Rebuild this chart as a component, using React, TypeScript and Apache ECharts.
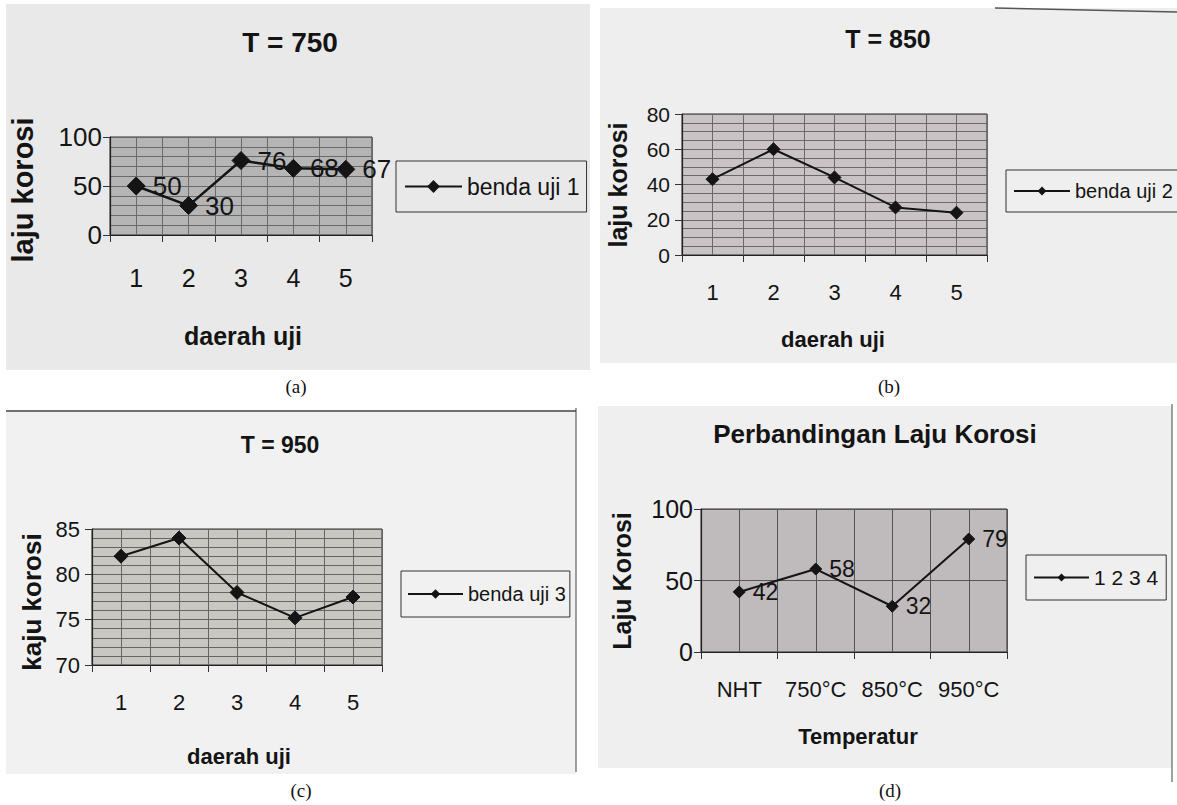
import React, { useEffect, useRef } from 'react';
import * as echarts from 'echarts';

// ---------------- data ----------------
const zoneCategories = ['1', '2', '3', '4', '5'];
const tempCategories = ['NHT', '750°C', '850°C', '950°C'];

const specimen1 = [50, 30, 76, 68, 67]; // T = 750
const specimen2 = [43, 60, 44, 27, 24]; // T = 850
const specimen3 = [82, 84, 78, 75.2, 77.5]; // T = 950
const comparison = [42, 58, 32, 79]; // Perbandingan

const yTicksA = { min: 0, max: 100, interval: 50, minor: 5 };
const yTicksB = { min: 0, max: 80, interval: 20, minor: 4 };
const yTicksC = { min: 70, max: 85, interval: 5, minor: 5 };
const yTicksD = { min: 0, max: 100, interval: 50, minor: 0 };

const FONT = "'Liberation Sans', Arial, Helvetica, sans-serif";
const SERIF = "'Liberation Serif', 'DejaVu Serif', serif";
const INK = '#141414';

type Panel = {
  name: string;
  cats: string[];
  data: number[];
  y: { min: number; max: number; interval: number; minor: number };
  grid: { left: number; top: number; width: number; height: number };
  fill: string;
  gridLine: string;
  showLabels: boolean;
  sym: number;
  lw: number;
  tickFs: number;
  xFs: number;
  labFs: number;
  legFs: number;
  xMargin: number;
  yMargin: number;
  legend: { left: number; top: number; pad: number[]; itemWidth: number; bg: string };
};

const panels: Panel[] = [
  {
    name: 'benda uji 1', cats: zoneCategories, data: specimen1, y: yTicksA,
    grid: { left: 110, top: 137, width: 262, height: 98 },
    fill: '#b5b5b5', gridLine: '#6a6a6a', showLabels: true, sym: 18, lw: 2.5,
    tickFs: 26, xFs: 25, labFs: 26, legFs: 23, xMargin: 30, yMargin: 8,
    legend: { left: 396, top: 161, pad: [14, 7, 14, 8], itemWidth: 57, bg: '#e9e9e9' },
  },
  {
    name: 'benda uji 2', cats: zoneCategories, data: specimen2, y: yTicksB,
    grid: { left: 682, top: 114, width: 305, height: 141 },
    fill: '#c9c3c5', gridLine: '#6a6868', showLabels: false, sym: 13, lw: 2,
    tickFs: 21, xFs: 22, labFs: 20, legFs: 20, xMargin: 26, yMargin: 12,
    legend: { left: 1006, top: 170, pad: [11, 14, 11, 7], itemWidth: 56, bg: '#efefef' },
  },
  {
    name: 'benda uji 3', cats: zoneCategories, data: specimen3, y: yTicksC,
    grid: { left: 92, top: 529, width: 290, height: 136 },
    fill: '#c8c7c2', gridLine: '#656565', showLabels: false, sym: 14, lw: 2,
    tickFs: 22, xFs: 22, labFs: 20, legFs: 20, xMargin: 26, yMargin: 12,
    legend: { left: 401, top: 571, pad: [13, 4, 13, 6], itemWidth: 55, bg: '#f1f1f1' },
  },
  {
    name: '1 2 3 4', cats: tempCategories, data: comparison, y: yTicksD,
    grid: { left: 701, top: 509, width: 306, height: 143 },
    fill: '#bfbabb', gridLine: '#555555', showLabels: true, sym: 12, lw: 2,
    tickFs: 25, xFs: 22, labFs: 23, legFs: 21, xMargin: 26, yMargin: 8,
    legend: { left: 1026, top: 555, pad: [12, 8, 12, 7], itemWidth: 55, bg: '#efefef' },
  },
];

// texts placed around the plots
const texts = [
  { t: 'T = 750', x: 290, y: 42, fs: 28, bold: true, rot: 0 },
  { t: 'laju korosi', x: 23, y: 190, fs: 29, bold: true, rot: 1 },
  { t: 'daerah uji', x: 243, y: 336, fs: 25, bold: true, rot: 0 },
  { t: 'T = 850', x: 888, y: 39, fs: 25, bold: true, rot: 0 },
  { t: 'laju korosi', x: 618, y: 185, fs: 25, bold: true, rot: 1 },
  { t: 'daerah uji', x: 833, y: 339, fs: 22, bold: true, rot: 0 },
  { t: 'T = 950', x: 280, y: 445, fs: 23, bold: true, rot: 0 },
  { t: 'kaju korosi', x: 32, y: 602, fs: 26, bold: true, rot: 1 },
  { t: 'daerah uji', x: 239, y: 756, fs: 22, bold: true, rot: 0 },
  { t: 'Perbandingan Laju Korosi', x: 875, y: 434, fs: 26, bold: true, rot: 0 },
  { t: 'Laju Korosi', x: 622, y: 581, fs: 25, bold: true, rot: 1 },
  { t: 'Temperatur', x: 858, y: 736, fs: 22, bold: true, rot: 0 },
];

const captions = [
  { t: '(a)', x: 296, y: 386 },
  { t: '(b)', x: 889, y: 386 },
  { t: '(c)', x: 301, y: 790 },
  { t: '(d)', x: 890, y: 790 },
];

function buildOption() {
  const grid: any[] = [];
  const xAxis: any[] = [];
  const yAxis: any[] = [];
  const series: any[] = [];
  const legend: any[] = [];

  panels.forEach((p, i) => {
    grid.push({
      ...p.grid,
      show: true,
      backgroundColor: p.fill,
      borderColor: '#2a2a2a',
      borderWidth: 1,
      containLabel: false,
    });
    // category axis (data)
    xAxis.push({
      type: 'category',
      gridIndex: i,
      data: p.cats,
      boundaryGap: true,
      axisLine: { show: true, onZero: false, lineStyle: { color: '#222', width: 1.2 } },
      axisTick: { show: true, length: 7, lineStyle: { color: '#333' } },
      axisLabel: { interval: 0, fontFamily: FONT, fontSize: p.xFs, color: INK, margin: p.xMargin },
      splitLine: { show: false },
    });
    // value axis used only for the vertical grid lines (every half category)
    xAxis.push({
      type: 'value',
      gridIndex: i,
      min: 0.5,
      max: p.cats.length + 0.5,
      interval: 0.5,
      axisLine: { show: false },
      axisTick: { show: false },
      axisLabel: { show: false },
      splitLine: { show: true, lineStyle: { color: p.gridLine, width: 1 } },
    });
    yAxis.push({
      type: 'value',
      gridIndex: i,
      min: p.y.min,
      max: p.y.max,
      interval: p.y.interval,
      axisLine: { show: true, onZero: false, lineStyle: { color: '#222', width: 1.2 } },
      axisTick: { show: true, length: 7, lineStyle: { color: '#333' } },
      axisLabel: { fontFamily: FONT, fontSize: p.tickFs, color: INK, margin: p.yMargin },
      splitLine: { show: true, lineStyle: { color: p.gridLine, width: 1 } },
      minorTick: { show: false, splitNumber: p.y.minor || 5 },
      minorSplitLine: { show: p.y.minor > 0, lineStyle: { color: p.gridLine, width: 1 } },
    });
    series.push({
      type: 'line',
      name: p.name,
      xAxisIndex: i * 2,
      yAxisIndex: i,
      data: p.data,
      symbol: 'diamond',
      symbolSize: p.sym,
      lineStyle: { color: INK, width: p.lw },
      itemStyle: { color: INK, borderColor: INK },
      label: {
        show: p.showLabels,
        position: 'right',
        distance: 7,
        fontFamily: FONT,
        fontSize: p.labFs,
        color: INK,
      },
      z: 5,
    });
    legend.push({
      data: [p.name],
      left: p.legend.left,
      top: p.legend.top,
      orient: 'horizontal',
      padding: p.legend.pad,
      itemWidth: p.legend.itemWidth,
      itemHeight: p.sym - 2,
      itemGap: 0,
      borderColor: '#333',
      borderWidth: 1,
      backgroundColor: p.legend.bg,
      selectedMode: false,
      textStyle: { fontFamily: FONT, fontSize: p.legFs, color: INK },
    });
  });

  const graphic: any[] = [
    // scanned page backgrounds
    { type: 'rect', z: -10, shape: { x: 6, y: 4, width: 584, height: 366 }, style: { fill: '#e9e9e9' } },
    { type: 'rect', z: -10, shape: { x: 600, y: 8, width: 577, height: 355 }, style: { fill: '#eeeeee' } },
    { type: 'rect', z: -10, shape: { x: 6, y: 410, width: 570, height: 364 }, style: { fill: '#f1f1f1' } },
    { type: 'rect', z: -10, shape: { x: 598, y: 406, width: 574, height: 362 }, style: { fill: '#efefef' } },
    // page edges seen in the scans
    { type: 'line', z: -5, shape: { x1: 995, y1: 8, x2: 1177, y2: 12 }, style: { stroke: '#555', lineWidth: 1.5 } },
    { type: 'line', z: -5, shape: { x1: 6, y1: 411, x2: 576, y2: 411 }, style: { stroke: '#444', lineWidth: 1.5 } },
    { type: 'line', z: -5, shape: { x1: 576, y1: 408, x2: 576, y2: 772 }, style: { stroke: '#444', lineWidth: 1 } },
    { type: 'line', z: -5, shape: { x1: 1172, y1: 404, x2: 1172, y2: 782 }, style: { stroke: '#444', lineWidth: 1 } },
  ];

  texts.forEach((t) => {
    graphic.push({
      type: 'text',
      z: 20,
      x: t.x,
      y: t.y,
      rotation: t.rot ? Math.PI / 2 : 0,
      style: {
        text: t.t,
        fontFamily: FONT,
        fontSize: t.fs,
        fontWeight: t.bold ? 'bold' : 'normal',
        fill: INK,
        align: 'center',
        verticalAlign: 'middle',
      },
    });
  });

  captions.forEach((c) => {
    graphic.push({
      type: 'text',
      z: 20,
      x: c.x,
      y: c.y,
      style: {
        text: c.t,
        fontFamily: SERIF,
        fontSize: 19,
        fill: '#111',
        align: 'center',
        verticalAlign: 'middle',
      },
    });
  });

  return {
    animation: false,
    backgroundColor: '#ffffff',
    grid,
    xAxis,
    yAxis,
    series,
    legend,
    graphic,
  };
}

export default function App() {
  const ref = useRef<HTMLDivElement>(null);
  useEffect(() => {
    if (!ref.current) return;
    const chart = echarts.init(ref.current, null, { renderer: 'svg', width: 1177, height: 805 });
    chart.setOption(buildOption());
    return () => {
      chart.dispose();
    };
  }, []);
  return (
    <div
      ref={ref}
      style={{ position: 'fixed', left: 0, top: 0, width: 1177, height: 805, background: '#fff' }}
    />
  );
}
